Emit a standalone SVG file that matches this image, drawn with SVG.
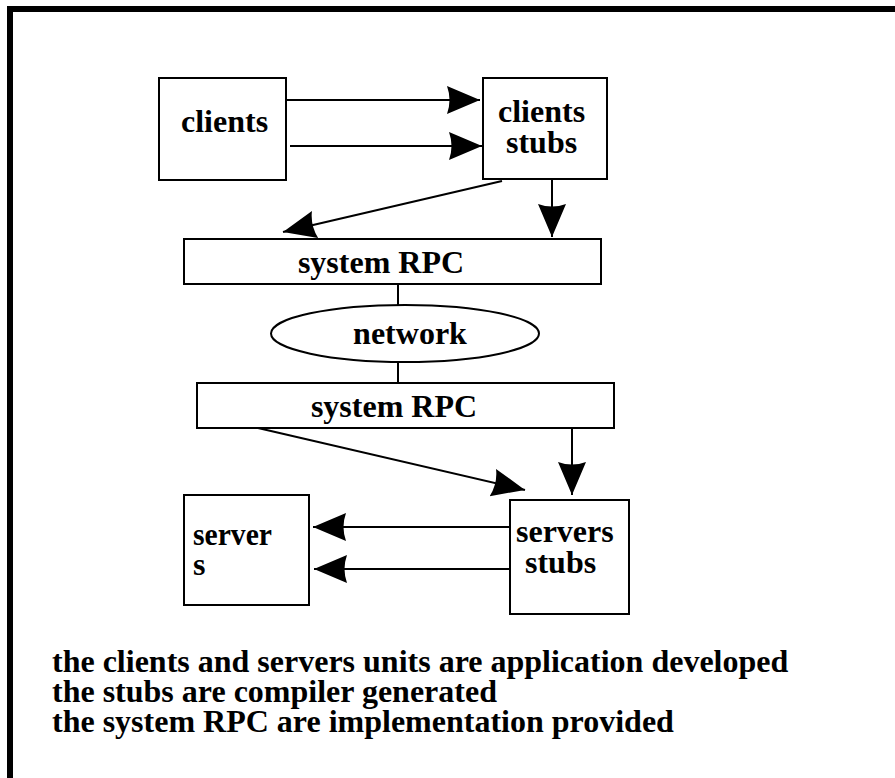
<svg xmlns="http://www.w3.org/2000/svg" width="895" height="778" viewBox="0 0 895 778">
<style>
.box{fill:#fff;stroke:#000;stroke-width:2}
.ln{fill:none;stroke:#000;stroke-width:2}
.t{font-family:"Liberation Serif","Times New Roman",serif;font-weight:bold;font-size:32px;fill:#000}
</style>
<defs>
<marker id="ah" markerUnits="userSpaceOnUse" markerWidth="36" markerHeight="32" refX="33" refY="15" orient="auto">
<path d="M0,1 L33,15 L0,29 Q5,15 0,1 z" fill="#000"/>
</marker>
</defs>
<rect x="10" y="9" width="1000" height="1000" fill="none" stroke="#000" stroke-width="6"/>
<g id="clients">
<rect class="box" x="159" y="78" width="127" height="102"/>
<text class="t" x="181" y="132">clients</text>
</g>
<g id="clients-stubs">
<rect class="box" x="483" y="78" width="124" height="101"/>
<text class="t" x="498" y="122">clients</text>
<text class="t" x="506" y="153">stubs</text>
</g>
<g id="rpc1">
<rect class="box" x="184" y="239" width="417" height="45"/>
<text class="t" x="381" y="273" text-anchor="middle">system RPC</text>
</g>
<g id="network">
<ellipse class="box" cx="405" cy="333.5" rx="134" ry="28.5"/>
<text class="t" x="410" y="344" text-anchor="middle">network</text>
</g>
<g id="rpc2">
<rect class="box" x="197" y="383" width="417" height="45"/>
<text class="t" x="394" y="417" text-anchor="middle">system RPC</text>
</g>
<g id="servers">
<rect class="box" x="184" y="495" width="125" height="110"/>
<text class="t" x="193" y="545" textLength="79" lengthAdjust="spacingAndGlyphs">server</text>
<text class="t" x="193" y="575">s</text>
</g>
<g id="servers-stubs">
<rect class="box" x="510" y="500" width="119" height="114"/>
<text class="t" x="516" y="542">servers</text>
<text class="t" x="525" y="573">stubs</text>
</g>
<g id="connectors">
<line class="ln" x1="286" y1="100" x2="480" y2="100" marker-end="url(#ah)"/>
<line class="ln" x1="290" y1="146" x2="482" y2="146" marker-end="url(#ah)"/>
<line class="ln" x1="502" y1="181" x2="283" y2="232" marker-end="url(#ah)"/>
<line class="ln" x1="552" y1="179" x2="552" y2="237" marker-end="url(#ah)"/>
<line class="ln" x1="398" y1="284" x2="398" y2="305"/>
<line class="ln" x1="398" y1="362" x2="398" y2="383"/>
<line class="ln" x1="258" y1="428" x2="525" y2="490" marker-end="url(#ah)"/>
<line class="ln" x1="572" y1="428" x2="572" y2="495" marker-end="url(#ah)"/>
<line class="ln" x1="510" y1="527" x2="313" y2="527" marker-end="url(#ah)"/>
<line class="ln" x1="510" y1="569" x2="314" y2="569" marker-end="url(#ah)"/>
</g>
<g id="notes">
<text class="t" x="52" y="672">the clients and servers units are application developed</text>
<text class="t" x="52" y="702">the stubs are compiler generated</text>
<text class="t" x="52" y="732">the system RPC are implementation provided</text>
</g>
</svg>
